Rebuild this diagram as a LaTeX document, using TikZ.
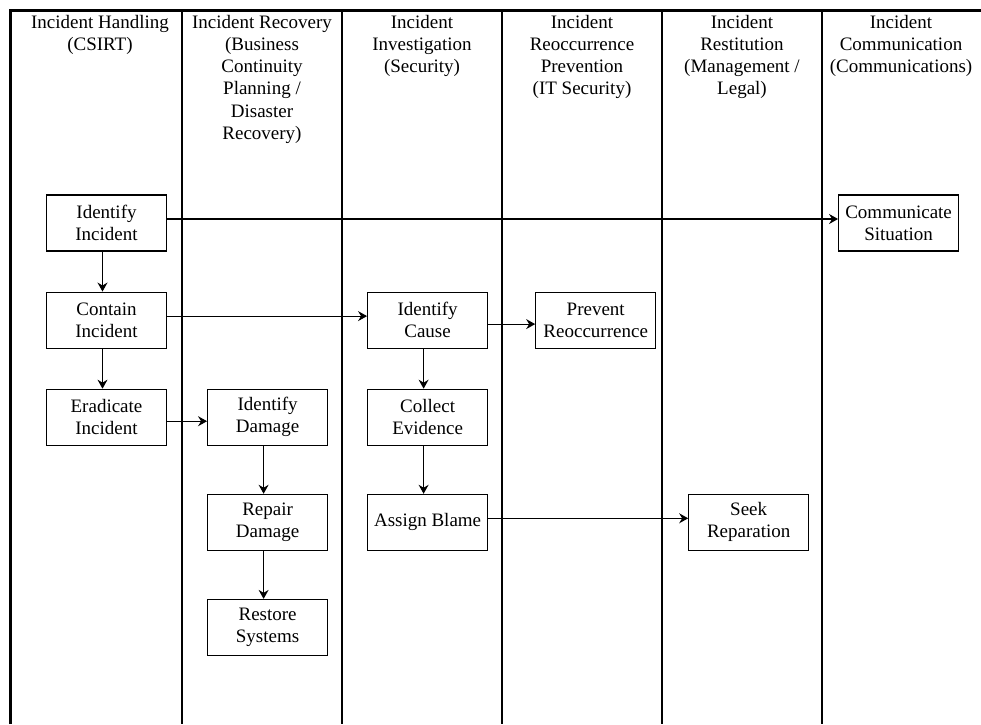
\documentclass[tikz,border=0pt]{standalone}
\usepackage{fontspec}
\setmainfont{Liberation Serif}
\usetikzlibrary{arrows.meta, positioning}

\begin{document}
\begin{tikzpicture}[x=1pt, y=-1pt,
        node distance = 40pt and 40pt,
        taskbox/.style = {draw, line width=1.1pt, align=center, minimum width=120pt, minimum height=56pt, inner sep=0pt, font=\fontsize{19}{22}\selectfont},
        lanehead/.style = {anchor=north, align=center, inner sep=0pt, font=\fontsize{19}{22.2}\selectfont},
        flow/.style = {line width=1.1pt, -{Stealth[length=9pt, width=10pt, inset=3pt]}},
    ]
    \fill[white] (0,0) rectangle (981,724);
    \useasboundingbox (0,0) rectangle (981,724);
    % swimlanes
    \draw[line width=3pt] (10,724) -- (10,10) -- (981,10);
    \foreach \x in {182,342,502,662,822}
        \draw[line width=1.3pt] (\x,10) -- (\x,724);
    %
    \node[lanehead] (h_csirt)    at (100,15) {Incident Handling\\(CSIRT)};
    \node[lanehead] (h_recovery) at (262,15) {Incident Recovery\\(Business\\Continuity\\Planning /\\Disaster\\Recovery)};
    \node[lanehead] (h_invest)   at (422,15) {Incident\\Investigation\\(Security)};
    \node[lanehead] (h_prevent)  at (582,15) {Incident\\Reoccurrence\\Prevention\\(IT Security)};
    \node[lanehead] (h_restit)   at (742,15) {Incident\\Restitution\\(Management /\\Legal)};
    \node[lanehead] (h_comm)     at (901,15) {Incident\\Communication\\(Communications)};
    %
    \node[taskbox] (id_incident) at (106.5,223) {Identify\\Incident};
    \node[taskbox, below=of id_incident]        (contain) {Contain\\Incident};
    \node[taskbox, below=of contain]            (eradicate) {Eradicate\\Incident};
    \node[taskbox, right=of eradicate]          (id_damage) {Identify\\Damage};
    \node[taskbox, below=48pt of id_damage]     (repair) {Repair\\Damage};
    \node[taskbox, below=48pt of repair]        (restore) {Restore\\Systems};
    \node[taskbox, right=200pt of contain]      (id_cause) {Identify\\Cause};
    \node[taskbox, below=of id_cause]           (evidence) {Collect\\Evidence};
    \node[taskbox, below=48pt of evidence]      (blame) {Assign Blame};
    \node[taskbox, right=47pt of id_cause]      (prevent) {Prevent\\Reoccurrence};
    \node[taskbox, right=200pt of blame]        (reparation) {Seek\\Reparation};
    \node[taskbox, right=671pt of id_incident]  (communicate) {Communicate\\Situation};
    %
    \draw[flow] ([yshift=4pt]id_incident.east) -- ([yshift=4pt]communicate.west);
    \draw[flow] ([xshift=-4pt]id_incident.south) -- ([xshift=-4pt]contain.north);
    \draw[flow] ([xshift=-4pt]contain.south) -- ([xshift=-4pt]eradicate.north);
    \draw[flow] ([yshift=4pt]contain.east) -- ([yshift=4pt]id_cause.west);
    \draw[flow] ([yshift=-4pt]eradicate.east) -- ([yshift=-4pt]id_damage.west);
    \draw[flow] ([xshift=-4pt]id_damage.south) -- ([xshift=-4pt]repair.north);
    \draw[flow] ([xshift=-4pt]repair.south) -- ([xshift=-4pt]restore.north);
    \draw[flow] ([yshift=-4pt]id_cause.east) -- ([yshift=-4pt]prevent.west);
    \draw[flow] ([xshift=-4pt]id_cause.south) -- ([xshift=-4pt]evidence.north);
    \draw[flow] ([xshift=-4pt]evidence.south) -- ([xshift=-4pt]blame.north);
    \draw[flow] ([yshift=4pt]blame.east) -- ([yshift=4pt]reparation.west);
    %
\end{tikzpicture}
\end{document}
